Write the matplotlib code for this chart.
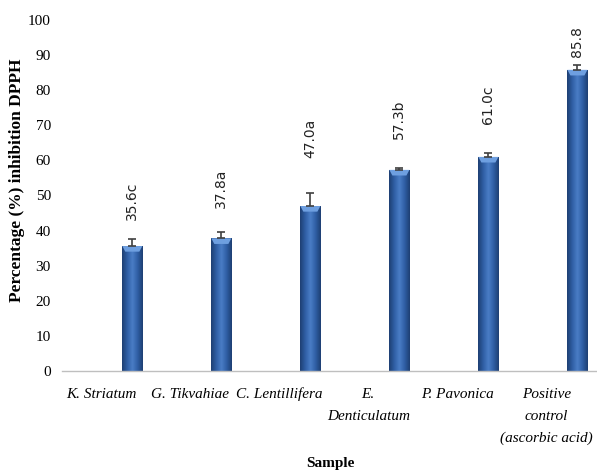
import numpy as np
import matplotlib
matplotlib.use("Agg")
import matplotlib.pyplot as plt
from matplotlib.colors import LinearSegmentedColormap

samples = ["K. Striatum", "G. Tikvahiae", "C. Lentillifera",
           "E.\nDenticulatum", "P. Pavonica", "Positive\ncontrol\n(ascorbic acid)"]
inhibition = [35.6, 37.8, 47.0, 57.3, 61.0, 85.8]
errors = [2.0, 1.7, 3.8, 0.5, 1.0, 1.3]
letters = ["c", "a", "a", "b", "c", ""]

# gap between error cap and rotated value label (data units)
label_gap = [5.4, 6.8, 10.0, 8.3, 8.5, 2.3]

serif = "Liberation Serif"

fig = plt.figure(figsize=(5.97, 4.70), dpi=100)
ax = fig.add_axes([62 / 597, 1 - 371 / 470, 1 - 62 / 597, (371 - 20) / 470])

x = np.arange(len(samples))
width = 0.225
offset = 0.35  # bars sit right of the category centre
bars = ax.bar(x + offset, inhibition, width=width, color="#2F5E9F", zorder=2)

# shaded fill: dark edges, lighter middle, with a light bevel at the top
cmap = LinearSegmentedColormap.from_list(
    "bar", ["#1E3F73", "#2F5FA5", "#4A7DC6", "#2F5FA5", "#1E3F73"])
grad = np.tile(np.linspace(0, 1, 64), (64, 1))
for b in bars:
    x0, w, h = b.get_x(), b.get_width(), b.get_height()
    im = ax.imshow(grad, cmap=cmap, aspect="auto", zorder=2.1,
                   extent=[x0, x0 + w, 0, h], origin="lower")
    im.set_clip_path(b)
    b.set_facecolor("none")
    ax.fill([x0, x0 + w, x0 + w * 0.85, x0 + w * 0.15],
            [h, h, h - 1.6, h - 1.6], color="#6E9FE0", zorder=2.2, lw=0)

ax.errorbar(x + offset, inhibition, yerr=[[0] * len(errors), errors], fmt="none",
            ecolor="#404040", elinewidth=1.2, capsize=3, capthick=1.2, zorder=3)

for xi, v, e, let, g in zip(x + offset, inhibition, errors, letters, label_gap):
    ax.text(xi, v + e + g, f"{v:.1f}{let}", rotation=90, ha="center", va="bottom",
            fontsize=10, family="DejaVu Sans", color="#222222")

ax.set_xlim(-0.79 + offset, 5.22 + offset)
ax.set_ylim(0, 100)
ax.set_yticks(range(0, 101, 10))
ax.set_xticks(x)
ax.set_xticklabels(samples, fontsize=11, family=serif, style="italic",
                   linespacing=1.9, va="top")
for lab in ax.get_yticklabels():
    lab.set_family(serif)
    lab.set_fontsize(11)
ax.tick_params(axis="both", length=0)
ax.tick_params(axis="y", pad=8)
ax.tick_params(axis="x", pad=12)

for s in ["top", "right", "left"]:
    ax.spines[s].set_visible(False)
ax.spines["bottom"].set_color("#BFBFBF")
ax.spines["bottom"].set_linewidth(1.0)

fig.text(17 / 597, 1 - 180 / 470, "Percentage (%) inhibition DPPH", family=serif,
         fontweight="bold", fontsize=12.5, rotation=90, ha="center", va="center")
fig.text(330 / 597, 1 - 463 / 470, "Sample", family=serif, fontweight="bold",
         fontsize=11, ha="center", va="center")

fig.savefig("out.png", dpi=100)
